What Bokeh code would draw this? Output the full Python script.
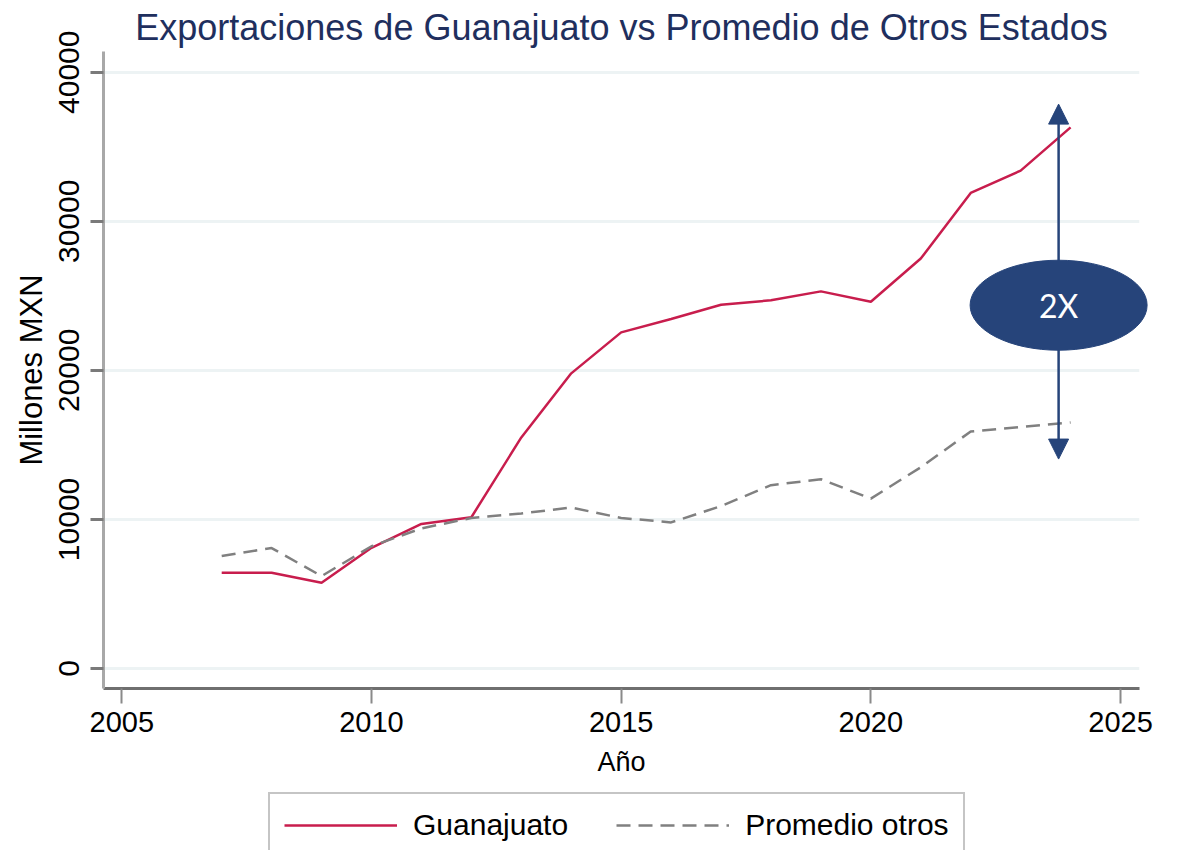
from bokeh.plotting import figure
from bokeh.layouts import column
from bokeh.models import (FixedTicker, Legend, LegendItem, Arrow, NormalHead,
                          ColumnDataSource, Range1d)
from bokeh.core.properties import value
from bokeh.embed import file_html
from bokeh.resources import INLINE

# ---- data ----
years = list(range(2007, 2025))
guanajuato = [6430, 6430, 5760, 8100, 9700, 10150, 15500, 19800, 22550, 23450,
              24400, 24700, 25300, 24600, 27500, 31900, 33400, 36300]
promedio_otros = [7550, 8080, 6200, 8200, 9400, 10100, 10400, 10800, 10100, 9800,
                  10900, 12300, 12700, 11400, 13500, 15900, 16200, 16500]
x_ticks = [2005, 2010, 2015, 2020, 2025]
y_ticks = [0, 10000, 20000, 30000, 40000]

title_text = "Exportaciones de Guanajuato vs Promedio de Otros Estados"
series_names = ["Guanajuato", "Promedio otros"]
ratio_label = "2X"
arrow_year = 2023.76
arrow_top = 37860
arrow_bottom = 14050
badge_value = 24370

# ---- styles ----
RED = "#c81d4d"
GRAY = "#808080"
NAVY = "#26447a"
FONT = "Liberation Sans"
W = 1178

p = figure(width=W, height=790, x_range=(2004.633, 2025.38), y_range=(-1340, 41390),
           min_border_left=103, min_border_right=39, min_border_top=50, min_border_bottom=102,
           output_backend="svg", toolbar_location=None)
p.outline_line_color = None
p.background_fill_color = "white"

# title
p.title.text = title_text
p.title.align = "center"
p.title.text_font = FONT
p.title.text_font_size = "36px"
p.title.text_font_style = "normal"
p.title.text_color = "#1f2f5e"
p.title.standoff = 8

src = ColumnDataSource(dict(year=years, gto=guanajuato, otros=promedio_otros))
r_gto = p.line("year", "gto", source=src, line_color=RED, line_width=2.5)
r_otr = p.line("year", "otros", source=src, line_color=GRAY, line_width=2.5, line_dash="14 8")

# grid
p.xgrid.grid_line_color = None
p.ygrid.ticker = FixedTicker(ticks=y_ticks)
p.ygrid.grid_line_color = "#edf3f4"
p.ygrid.grid_line_width = 3

# y axis
ya = p.yaxis[0]
ya.ticker = FixedTicker(ticks=y_ticks)
ya.axis_line_color = "#a8a8a8"
ya.axis_line_width = 3
ya.major_tick_line_color = "#7a7a7a"
ya.major_tick_line_width = 3
ya.major_tick_out = 13
ya.major_tick_in = 0
ya.minor_tick_line_color = None
ya.major_label_orientation = "vertical"
ya.major_label_text_font = FONT
ya.major_label_text_font_size = "30px"
ya.major_label_text_color = "black"
ya.major_label_standoff = 11
ya.axis_label = "Millones MXN"
ya.axis_label_text_font = FONT
ya.axis_label_text_font_size = "31px"
ya.axis_label_text_font_style = "normal"
ya.axis_label_text_color = "black"
ya.axis_label_standoff = 8

# x axis
xa = p.xaxis[0]
xa.ticker = FixedTicker(ticks=x_ticks)
xa.axis_line_color = "#6f6f6f"
xa.axis_line_width = 3
xa.major_tick_line_color = "#8a8a8a"
xa.major_tick_line_width = 2
xa.major_tick_out = 15
xa.major_tick_in = 0
xa.minor_tick_line_color = None
xa.major_label_text_font = FONT
xa.major_label_text_font_size = "29px"
xa.major_label_text_color = "black"
xa.major_label_standoff = 8
xa.axis_label = "Año"
xa.axis_label_text_font = FONT
xa.axis_label_text_font_size = "27px"
xa.axis_label_text_font_style = "normal"
xa.axis_label_text_color = "black"
xa.axis_label_standoff = 12

# arrow + badge
arrow = Arrow(x_start=arrow_year, y_start=arrow_bottom, x_end=arrow_year, y_end=arrow_top,
              line_color=NAVY, line_width=2.5,
              start=NormalHead(size=20, fill_color=NAVY, line_color=NAVY),
              end=NormalHead(size=20, fill_color=NAVY, line_color=NAVY))
p.add_layout(arrow)
badge = ColumnDataSource(dict(x=[arrow_year], y=[badge_value], t=[ratio_label]))
p.ellipse(x="x", y="y", width=177, height=90, width_units="screen", height_units="screen",
          source=badge, fill_color=NAVY, line_color=NAVY, level="overlay")
p.text(x="x", y="y", text="t", source=badge, text_color="white", text_font=value("Lato"),
       text_font_size="32px", text_align="center", text_baseline="middle", level="overlay")

# legend strip (a second, axis-less figure under the chart; its frame aligns with p's)
lg = figure(width=W, height=60, x_range=Range1d(0, 1), y_range=Range1d(0, 1),
            min_border=0, output_backend="svg", toolbar_location=None,
            x_axis_location=None, y_axis_location=None)
lg.outline_line_color = None
lg.grid.grid_line_color = None
proxy = ColumnDataSource(dict(x=[float("nan")], y=[float("nan")]))
l_gto = lg.line("x", "y", source=proxy, line_color=RED, line_width=2.5)
l_otr = lg.line("x", "y", source=proxy, line_color=GRAY, line_width=2.5, line_dash="14 8")
legend = Legend(items=[LegendItem(label=series_names[0], renderers=[l_gto]),
                       LegendItem(label=series_names[1], renderers=[l_otr])],
                orientation="horizontal", location=(165, -8),
                glyph_width=113, glyph_height=30, label_height=30,
                label_standoff=16, spacing=48, padding=14, margin=0,
                label_text_font=FONT, label_text_font_size="30px", label_text_color="black",
                border_line_color="#8c8c8c", border_line_width=2.5,
                background_fill_color="white", background_fill_alpha=1.0)
lg.add_layout(legend)

layout = column(p, lg, spacing=0)
open("out.html", "w").write(file_html(layout, INLINE))
